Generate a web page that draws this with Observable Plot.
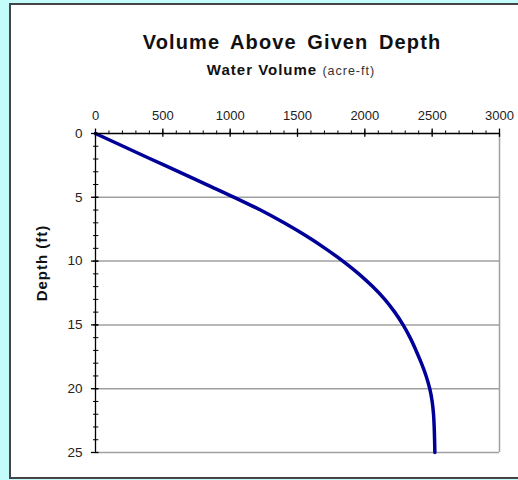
<!DOCTYPE html>
<html><head><meta charset="utf-8">
<script src="https://cdn.jsdelivr.net/npm/d3@7"></script>
<script src="https://cdn.jsdelivr.net/npm/@observablehq/plot@0.6"></script>
<style>
body{margin:0;background:#c4fcfc;width:518px;height:480px;overflow:hidden;position:relative;font-family:"Liberation Sans",Arial,sans-serif}
#panel{position:absolute;left:9px;top:3px;width:530px;height:472px;border:2px solid #444;background:#fff;}
.t{position:absolute;white-space:nowrap;color:#111;transform:translate(-50%,-50%);line-height:1}
#chart{position:absolute;left:0;top:0}
</style></head><body>
<div id="panel"></div>
<div class="t" id="title" style="left:292px;top:42px;font-size:20px;font-weight:bold;letter-spacing:1.1px;word-spacing:4px">Volume Above Given Depth</div>
<div class="t" id="sub" style="left:291px;top:70px;font-size:15px;font-weight:bold;letter-spacing:1px">Water Volume <span style="font-size:12.5px;font-weight:normal;color:#333;letter-spacing:1px">(acre-ft)</span></div>
<div class="t" id="ylab" style="left:41px;top:263px;font-size:15px;font-weight:bold;letter-spacing:1px;transform:translate(-50%,-50%) rotate(-90deg)">Depth (ft)</div>
<div id="chart"></div>
<script>
const depth = [0,1,2,3,4,5,6,7,8,9,10,11,12,13,14,15,16,17,18,19,20,21,22,23,24,25];
const volume = [0,205,410,620,825,1030,1225,1400,1560,1705,1837,1955,2058,2148,2222,2284,2336,2380,2420,2455,2482,2500,2510,2515,2518,2520];
const xTicks = [0,500,1000,1500,2000,2500,3000];
const yTicks = [0,5,10,15,20,25];
const xMinor = d3.range(0, 3001, 100);
const yMinor = d3.range(0, 26, 1);

const rows = depth.map((d, i) => ({depth: d, volume: volume[i]}));

const chart = Plot.plot({
  width: 518, height: 480,
  marginLeft: 95, marginRight: 19, marginTop: 133, marginBottom: 28,
  style: {background: "transparent", fontFamily: "Liberation Sans, Arial, sans-serif", fontSize: "13px", color: "#222"},
  x: {domain: [0, 3000]},
  y: {domain: [0, 25], reverse: true},
  marks: [
    Plot.ruleY(yTicks.slice(1), {stroke: "#a0a0a0", strokeWidth: 1.5}),
    Plot.ruleX([3000], {stroke: "#a0a0a0", strokeWidth: 1.5}),
    Plot.line(rows, {x: "volume", y: "depth", stroke: "#000099", strokeWidth: 3.5, curve: "monotone-y"}),
    Plot.ruleY([0], {stroke: "#000", strokeWidth: 1.3}),
    Plot.ruleX([0], {stroke: "#000", strokeWidth: 1.3}),
    Plot.ruleX(xMinor, {x: d => d, y1: -0.2, y2: 0.1, stroke: "#000"}),
    Plot.ruleX(xTicks, {x: d => d, y1: -0.35, y2: 0.3, stroke: "#000", strokeWidth: 1.3}),
    Plot.ruleY(yMinor, {y: d => d, x1: -15, x2: 25, stroke: "#000"}),
    Plot.ruleY(yTicks, {y: d => d, x1: -30, x2: 25, stroke: "#000", strokeWidth: 1.3}),
    Plot.axisX(xTicks, {anchor: "top", tickSize: 0, tickPadding: 14, label: null, fontSize: 13, tickFormat: d => String(d)}),
    Plot.axisY(yTicks, {anchor: "left", tickSize: 0, tickPadding: 13, label: null, fontSize: 13.5, tickFormat: d => String(d)})
  ]
});
document.getElementById("chart").append(chart);
</script>
</body></html>
